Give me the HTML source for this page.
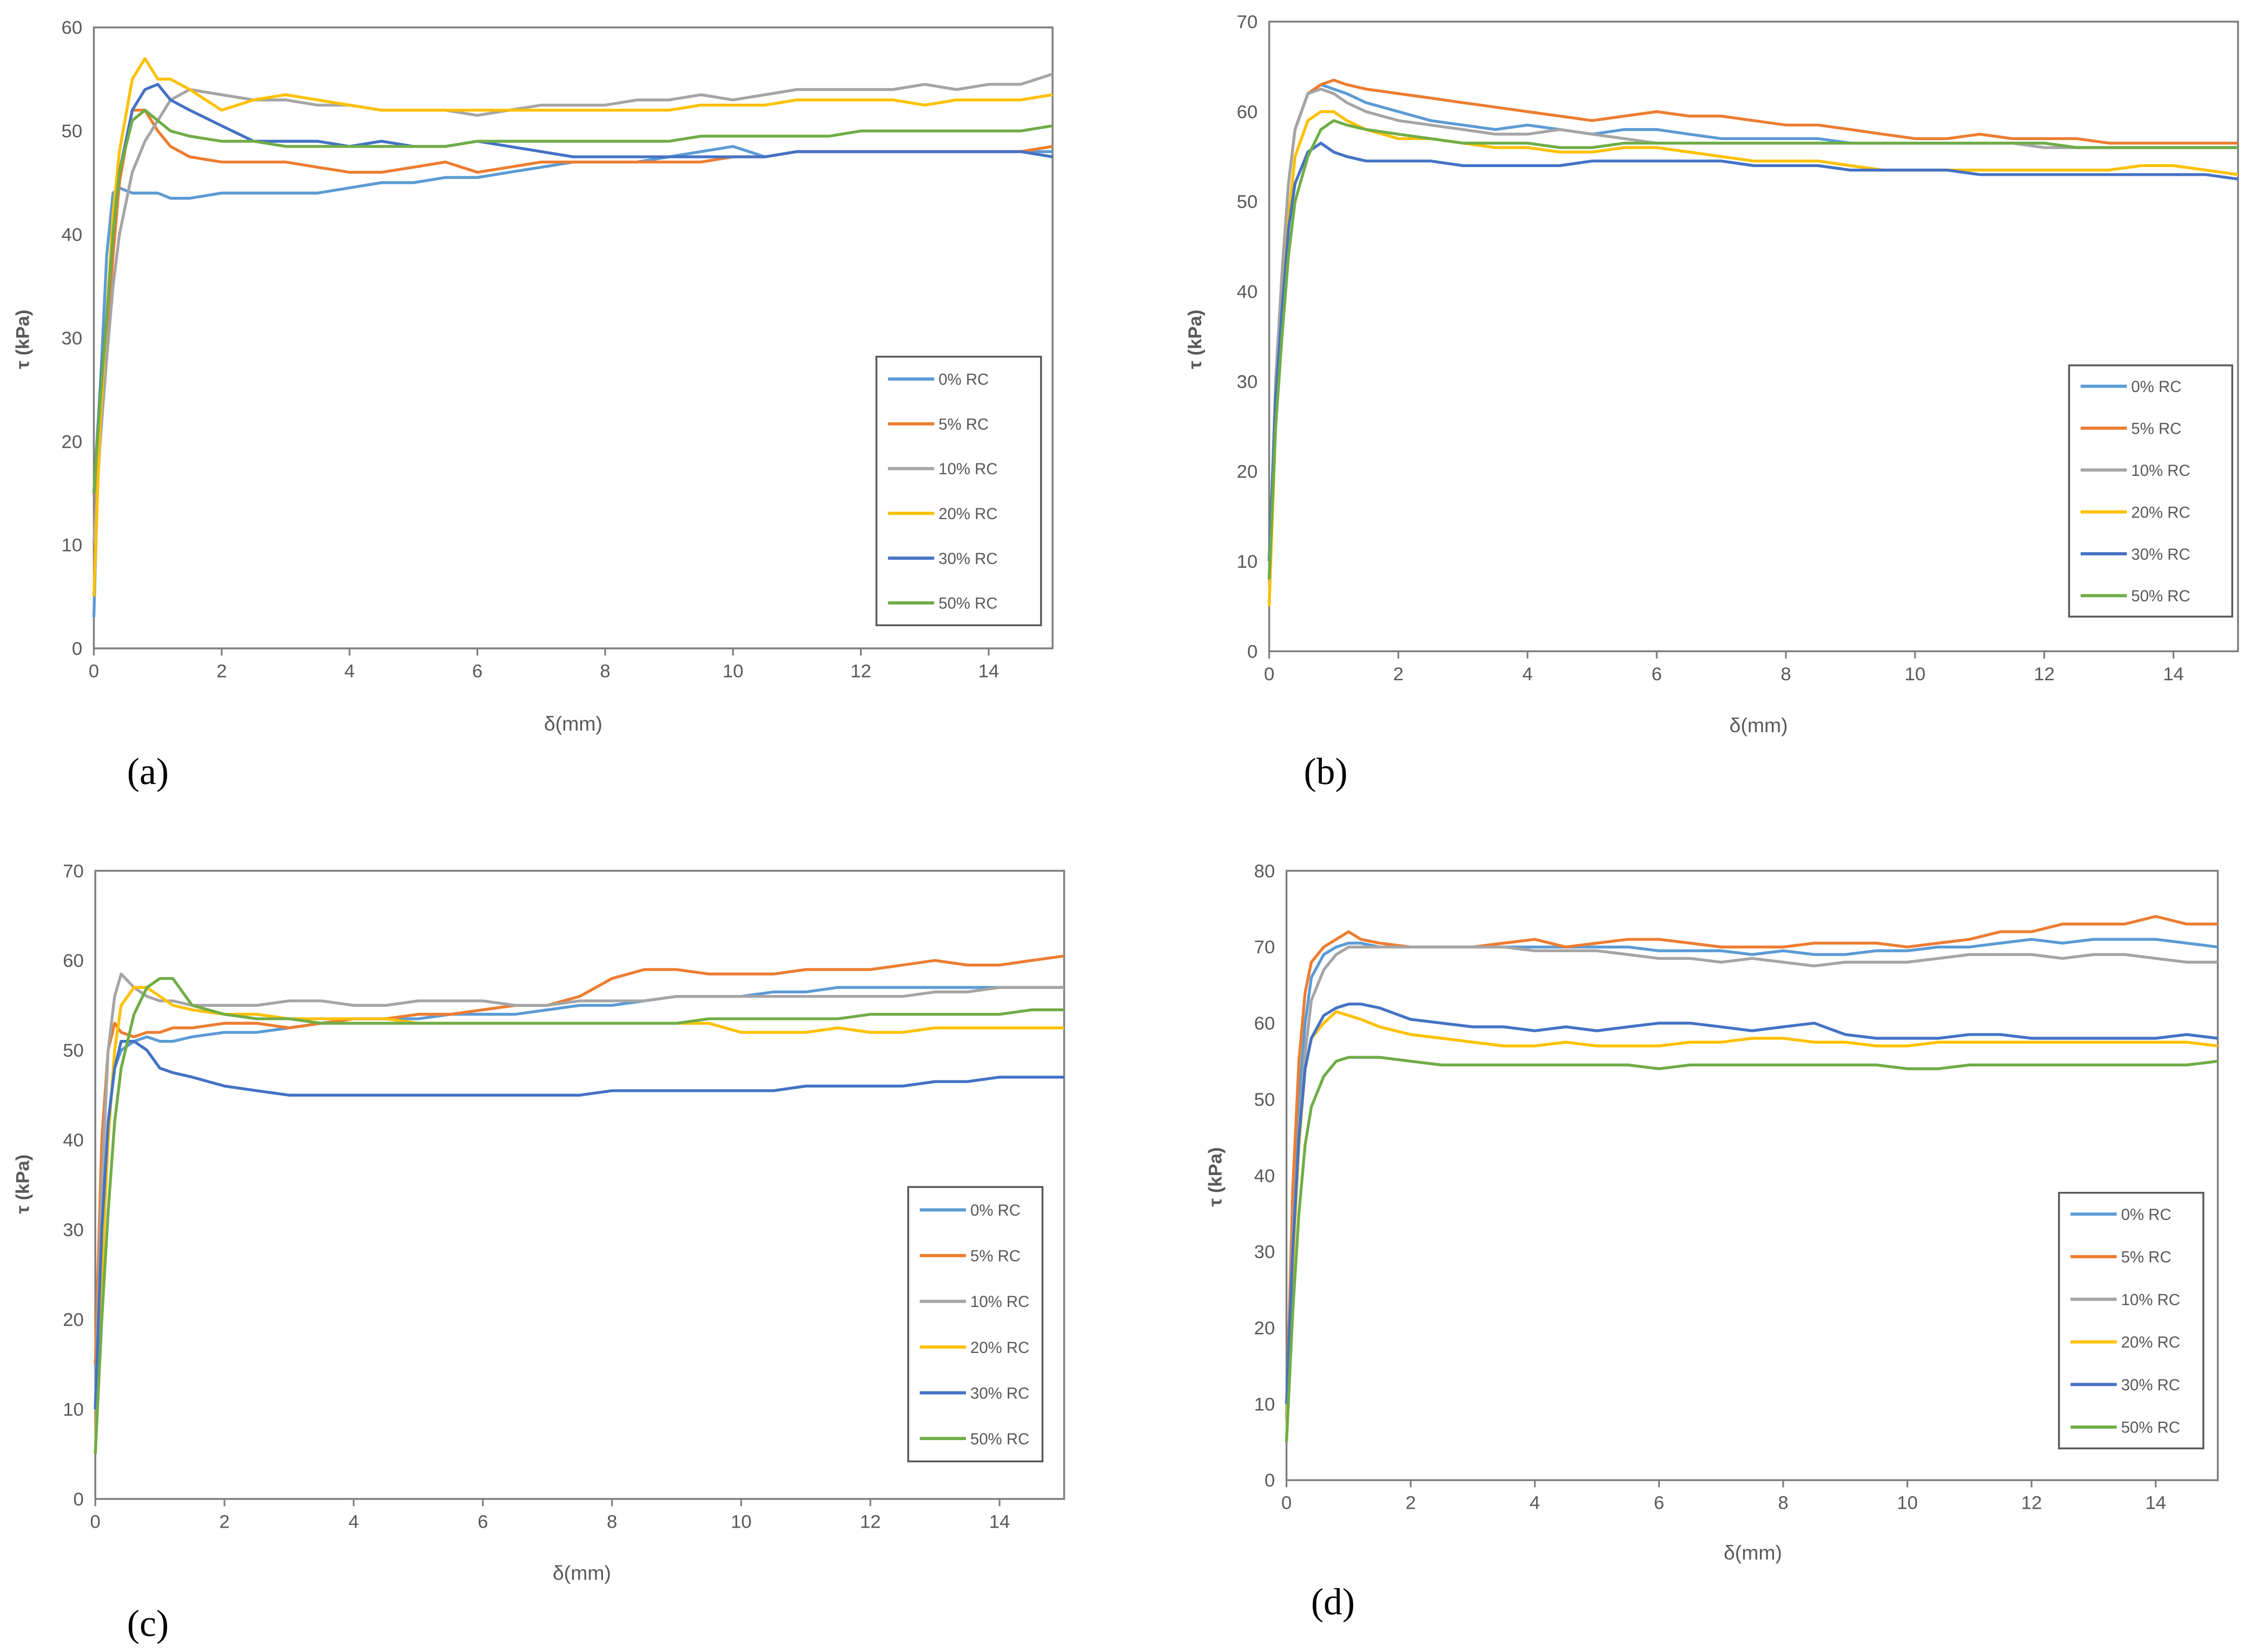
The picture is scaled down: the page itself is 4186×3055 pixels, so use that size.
<!DOCTYPE html>
<html><head><meta charset="utf-8"><style>
html,body{margin:0;padding:0;background:#fff}
svg{display:block}
</style></head><body>
<svg id="fig" width="4186" height="3055" viewBox="0 0 1568 1144" preserveAspectRatio="none" xmlns="http://www.w3.org/2000/svg" font-family="Liberation Sans, sans-serif"></svg>
<script>
const xs = [0,0.1,0.2,0.3,0.4,0.6,0.8,1,1.2,1.5,2,2.5,3,3.5,4,4.5,5,5.5,6,6.5,7,7.5,8,8.5,9,9.5,10,10.5,11,11.5,12,12.5,13,13.5,14,14.5,15];
const seriesNames = ["0% RC","5% RC","10% RC","20% RC","30% RC","50% RC"];
const xTicks = [0,2,4,6,8,10,12,14];
const a0=[3,25,38,44,44.5,44,44,44,43.5,43.5,44,44,44,44,44.5,45,45,45.5,45.5,46,46.5,47,47,47,47.5,48,48.5,47.5,48,48,48,48,48,48,48,48,48];
const a5=[10,22,30,38,45,52,52,50,48.5,47.5,47,47,47,46.5,46,46,46.5,47,46,46.5,47,47,47,47,47,47,47.5,47.5,48,48,48,48,48,48,48,48,48.5];
const a10=[10,20,28,35,40,46,49,51,53,54,53.5,53,53,52.5,52.5,52,52,52,51.5,52,52.5,52.5,52.5,53,53,53.5,53,53.5,54,54,54,54,54.5,54,54.5,54.5,55.5];
const a20=[5,22,32,42,48,55,57,55,55,54,52,53,53.5,53,52.5,52,52,52,52,52,52,52,52,52,52,52.5,52.5,52.5,53,53,53,53,52.5,53,53,53,53.5];
const a30=[15,25,32,40,46,52,54,54.5,53,52,50.5,49,49,49,48.5,49,48.5,48.5,49,48.5,48,47.5,47.5,47.5,47.5,47.5,47.5,47.5,48,48,48,48,48,48,48,48,47.5];
const a50=[15,24,32,40,46,51,52,51,50,49.5,49,49,48.5,48.5,48.5,48.5,48.5,48.5,49,49,49,49,49,49,49,49.5,49.5,49.5,49.5,49.5,50,50,50,50,50,50,50.5];
const b0=[8,30,42,52,58,62,63,62.5,62,61,60,59,58.5,58,58.5,58,57.5,58,58,57.5,57,57,57,57,56.5,56.5,56.5,56.5,56.5,56.5,56.5,56,56,56,56,56,56];
const b5=[8,30,42,52,58,62,63,63.5,63,62.5,62,61.5,61,60.5,60,59.5,59,59.5,60,59.5,59.5,59,58.5,58.5,58,57.5,57,57,57.5,57,57,57,56.5,56.5,56.5,56.5,56.5];
const b10=[8,30,42,52,58,62,62.5,62,61,60,59,58.5,58,57.5,57.5,58,57.5,57,56.5,56.5,56.5,56.5,56.5,56.5,56.5,56.5,56.5,56.5,56.5,56.5,56,56,56,56,56,56,56];
const b20=[5,25,38,48,55,59,60,60,59,58,57,57,56.5,56,56,55.5,55.5,56,56,55.5,55,54.5,54.5,54.5,54,53.5,53.5,53.5,53.5,53.5,53.5,53.5,53.5,54,54,53.5,53];
const b30=[10,28,38,47,52,55.5,56.5,55.5,55,54.5,54.5,54.5,54,54,54,54,54.5,54.5,54.5,54.5,54.5,54,54,54,53.5,53.5,53.5,53.5,53,53,53,53,53,53,53,53,52.5];
const b50=[8,25,35,44,50,55,58,59,58.5,58,57.5,57,56.5,56.5,56.5,56,56,56.5,56.5,56.5,56.5,56.5,56.5,56.5,56.5,56.5,56.5,56.5,56.5,56.5,56.5,56,56,56,56,56,56];
const c0=[10,30,42,48,50,51,51.5,51,51,51.5,52,52,52.5,53,53.5,53.5,53.5,54,54,54,54.5,55,55,55.5,56,56,56,56.5,56.5,57,57,57,57,57,57,57,57];
const c5=[15,40,50,53,52,51.5,52,52,52.5,52.5,53,53,52.5,53,53.5,53.5,54,54,54.5,55,55,56,58,59,59,58.5,58.5,58.5,59,59,59,59.5,60,59.5,59.5,60,60.5];
const c10=[10,35,50,56,58.5,57,56,55.5,55.5,55,55,55,55.5,55.5,55,55,55.5,55.5,55.5,55,55,55.5,55.5,55.5,56,56,56,56,56,56,56,56,56.5,56.5,57,57,57];
const c20=[5,25,40,50,55,57,57,56,55,54.5,54,54,53.5,53.5,53.5,53.5,53,53,53,53,53,53,53,53,53,53,52,52,52,52.5,52,52,52.5,52.5,52.5,52.5,52.5];
const c30=[10,30,42,48,51,51,50,48,47.5,47,46,45.5,45,45,45,45,45,45,45,45,45,45,45.5,45.5,45.5,45.5,45.5,45.5,46,46,46,46,46.5,46.5,47,47,47];
const c50=[5,20,32,42,48,54,57,58,58,55,54,53.5,53.5,53,53,53,53,53,53,53,53,53,53,53,53,53.5,53.5,53.5,53.5,53.5,54,54,54,54,54,54.5,54.5];
const d0=[8,35,50,60,66,69,70,70.5,70.5,70,70,70,70,70,70,70,70,70,69.5,69.5,69.5,69,69.5,69,69,69.5,69.5,70,70,70.5,71,70.5,71,71,71,70.5,70];
const d5=[8,38,55,64,68,70,71,72,71,70.5,70,70,70,70.5,71,70,70.5,71,71,70.5,70,70,70,70.5,70.5,70.5,70,70.5,71,72,72,73,73,73,74,73,73];
const d10=[8,32,46,56,63,67,69,70,70,70,70,70,70,70,69.5,69.5,69.5,69,68.5,68.5,68,68.5,68,67.5,68,68,68,68.5,69,69,69,68.5,69,69,68.5,68,68];
const d20=[5,28,44,54,58,60,61.5,61,60.5,59.5,58.5,58,57.5,57,57,57.5,57,57,57,57.5,57.5,58,58,57.5,57.5,57,57,57.5,57.5,57.5,57.5,57.5,57.5,57.5,57.5,57.5,57];
const d30=[10,30,45,54,58,61,62,62.5,62.5,62,60.5,60,59.5,59.5,59,59.5,59,59.5,60,60,59.5,59,59.5,60,58.5,58,58,58,58.5,58.5,58,58,58,58,58,58.5,58];
const d50=[5,22,35,44,49,53,55,55.5,55.5,55.5,55,54.5,54.5,54.5,54.5,54.5,54.5,54.5,54,54.5,54.5,54.5,54.5,54.5,54.5,54.5,54,54,54.5,54.5,54.5,54.5,54.5,54.5,54.5,54.5,55];
const aTicks=[0,10,20,30,40,50,60], bTicks=[0,10,20,30,40,50,60,70], cTicks=[0,10,20,30,40,50,60,70], dTicks=[0,10,20,30,40,50,60,70,80];

const colors=["#5B9BD5","#ED7D31","#A5A5A5","#FFC000","#4472C4","#70AD47"];
const NS="http://www.w3.org/2000/svg";
const svg=document.getElementById('fig');
function mk(tag,attrs,parent){const e=document.createElementNS(NS,tag);for(const k in attrs)e.setAttribute(k,attrs[k]);(parent||svg).appendChild(e);return e;}

const panels=[
 {id:'a',L:65,R:729,T:19,B:449,yt:aTicks,data:[a0,a5,a10,a20,a30,a50],leg:[607,247,721,433],lab:[88,543],xt:[397,506],yl:[20,235]},
 {id:'b',L:879,R:1550,T:15,B:451,yt:bTicks,data:[b0,b5,b10,b20,b30,b50],leg:[1433,253,1546,427],lab:[903,543],xt:[1218,507],yl:[832,235]},
 {id:'c',L:66,R:737,T:603,B:1038,yt:cTicks,data:[c0,c5,c10,c20,c30,c50],leg:[629,822,722,1012],lab:[88,1133],xt:[403,1094],yl:[20,820]},
 {id:'d',L:891,R:1536,T:603,B:1025,yt:dTicks,data:[d0,d5,d10,d20,d30,d50],leg:[1426,826,1526,1003],lab:[908,1118],xt:[1214,1080],yl:[846,815]}
];
panels.forEach(p=>{
 const g=mk('g',{});
 
 
 const ymax=p.yt[p.yt.length-1];
 const sx=v=>p.L+(v/15)*(p.R-p.L);
 const sy=v=>p.B-(v/ymax)*(p.B-p.T);
 const box=mk('rect',{x:p.L,y:p.T,width:p.R-p.L,height:p.B-p.T,fill:'none',stroke:'#7f7f7f','stroke-width':1.3},g);
 
 
 p.yt.forEach(t=>{
  const tx=mk('text',{x:p.L-8,y:sy(t)+4.5,'text-anchor':'end','font-size':13,fill:'#595959'},g);
  tx.textContent=t;
  
  
 });
 xTicks.forEach(t=>{
  mk('line',{x1:sx(t),x2:sx(t),y1:p.B,y2:p.B+5,stroke:'#7f7f7f','stroke-width':1.2},g);
  const tx=mk('text',{x:sx(t),y:p.B+20,'text-anchor':'middle','font-size':13,fill:'#595959'},g);
  tx.textContent=t;
  
  
 });
 p.data.forEach((ser,i)=>{
  const d=ser.map((v,k)=>(k?'L':'M')+sx(xs[k]).toFixed(1)+','+sy(v).toFixed(1)).join('');
  const path=mk('path',{d:d,fill:'none',stroke:colors[i],'stroke-width':2,'stroke-linejoin':'round'},g);
  
  
 });
 const [lx1,ly1,lx2,ly2]=p.leg;
 const lg=mk('g',{},g);
 
 
 mk('rect',{x:lx1,y:ly1,width:lx2-lx1,height:ly2-ly1,fill:'#fff',stroke:'#595959','stroke-width':1.3},lg);
 const step=(ly2-ly1)/6;
 seriesNames.forEach((n,i)=>{
  const yy=ly1+step*(i+0.5);
  mk('line',{x1:lx1+8,x2:lx1+40,y1:yy,y2:yy,stroke:colors[i],'stroke-width':2.2},lg);
  const tx=mk('text',{x:lx1+43,y:yy+4,'font-size':11,fill:'#595959'},lg);
  tx.textContent=n;
  
  
 });
 const xt=mk('text',{x:p.xt[0],y:p.xt[1],'text-anchor':'middle','font-size':14,fill:'#595959'},g);
 xt.textContent='δ(mm)';
 
 
 const yl=mk('text',{x:p.yl[0],y:p.yl[1],'text-anchor':'middle','font-size':13,fill:'#595959','font-weight':'bold',transform:'rotate(-90 '+p.yl[0]+' '+p.yl[1]+')'},g);
 yl.textContent='τ (kPa)';
 
 
 const lab=mk('text',{x:p.lab[0],y:p.lab[1],'font-size':26,fill:'#000','font-family':'Liberation Serif, serif'},g);
 lab.textContent='('+p.id+')';
 
 
});
</script>
</body></html>
